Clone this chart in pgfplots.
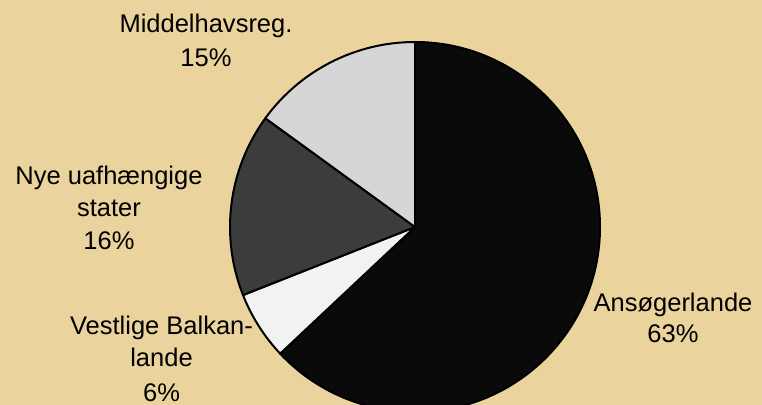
\documentclass[border=0pt]{standalone}
\usepackage{pgfplots}
\usepackage{pgfplotstable}
\pgfplotsset{compat=1.18}
\usepackage{fontspec}
\setmainfont{Liberation Sans}
\definecolor{bgcol}{HTML}{EAD39C}
\definecolor{cA}{HTML}{0A0A0A}
\definecolor{cV}{HTML}{F2F2F2}
\definecolor{cN}{HTML}{3C3C3C}
\definecolor{cM}{HTML}{D6D6D6}
\pgfplotstableread{
label value
Ansoegerlande 63
Vestlige 6
Nye 16
Middelhavsreg 15
}\piedata
\tikzset{lbl/.style={anchor=base, inner sep=0pt, font=\fontsize{25.6pt}{33pt}\selectfont}}
\begin{document}
\begin{tikzpicture}
\pgfplotstablegetelem{0}{value}\of\piedata \pgfmathsetmacro{\aA}{90-3.6*\pgfplotsretval}
\pgfplotstablegetelem{1}{value}\of\piedata \pgfmathsetmacro{\aV}{\aA-3.6*\pgfplotsretval}
\pgfplotstablegetelem{2}{value}\of\piedata \pgfmathsetmacro{\aN}{\aV-3.6*\pgfplotsretval}
\pgfplotstablegetelem{3}{value}\of\piedata \pgfmathsetmacro{\aM}{\aN-3.6*\pgfplotsretval}
\begin{axis}[
  scale only axis, width=762bp, height=405bp,
  xmin=0, xmax=762, ymin=0, ymax=405,
  hide axis,
]
\fill[bgcol] (axis cs:0,0) rectangle (axis cs:762,405);
\filldraw[fill=cA, draw=black, line width=2bp, line join=round] (axis cs:415,178) -- +(90:185bp) arc[start angle=90, end angle=\aA, radius=185bp] -- cycle;
\filldraw[fill=cV, draw=black, line width=2bp, line join=round] (axis cs:415,178) -- +(\aA:185bp) arc[start angle=\aA, end angle=\aV, radius=185bp] -- cycle;
\filldraw[fill=cN, draw=black, line width=2bp, line join=round] (axis cs:415,178) -- +(\aV:185bp) arc[start angle=\aV, end angle=\aN, radius=185bp] -- cycle;
\filldraw[fill=cM, draw=black, line width=2bp, line join=round] (axis cs:415,178) -- +(\aN:185bp) arc[start angle=\aN, end angle=\aM, radius=185bp] -- cycle;
\node[lbl] at (axis cs:206,372) {Middelhavsreg.};
\node[lbl] at (axis cs:206,338) {15\%};
\node[lbl] at (axis cs:109,220) {Nye uafhængige};
\node[lbl] at (axis cs:109,188) {stater};
\node[lbl] at (axis cs:109,155) {16\%};
\node[lbl] at (axis cs:161.5,70) {Vestlige Balkan-};
\node[lbl] at (axis cs:161.5,38) {lande};
\node[lbl] at (axis cs:161.5,4) {6\%};
\node[lbl] at (axis cs:673,93) {Ansøgerlande};
\node[lbl] at (axis cs:673,62) {63\%};
\end{axis}
\pgfresetboundingbox
\path (0,0) rectangle (762bp,405bp);
\end{tikzpicture}
\end{document}
